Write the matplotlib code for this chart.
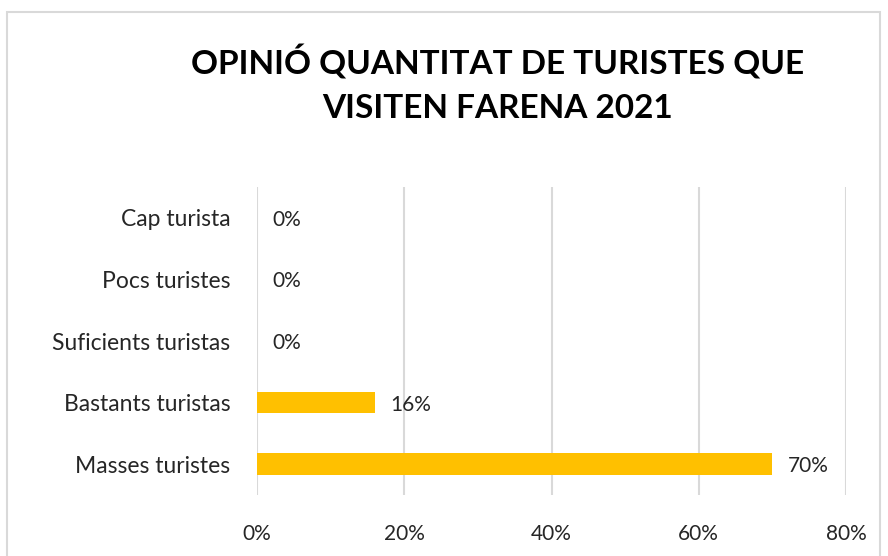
import matplotlib
matplotlib.use("Agg")
import matplotlib.pyplot as plt
from matplotlib.patches import Rectangle
from matplotlib.ticker import FuncFormatter

categories = ["Masses turistes", "Bastants turistas", "Suficients turistas", "Pocs turistes", "Cap turista"]
values = [70, 16, 0, 0, 0]
xticks = [0, 20, 40, 60, 80]
title_lines = ["OPINIÓ QUANTITAT DE TURISTES QUE", "VISITEN FARENA 2021"]

plt.rcParams['font.family'] = ['Lato', 'DejaVu Sans']

fig = plt.figure(figsize=(8.88, 5.56), dpi=100)
fig.patch.set_facecolor('white')
fig.add_artist(Rectangle((7/888, -0.05), (880-7)/888, 1.05 - 12/556, transform=fig.transFigure,
                         fill=False, edgecolor='#D9D9D9', linewidth=1.5))

ax = fig.add_axes([257/888, 61/556, (846-257)/888, (495-187)/556])
y = list(range(len(categories)))
ax.barh(y, values, height=0.35, color='#FFC000', zorder=3)
ax.set_xlim(0, 80)
ax.set_ylim(-0.5, len(categories) - 0.5)
ax.set_yticks(y)
ax.set_yticklabels(categories, fontsize=16.5, color='#262626')
ax.set_xticks(xticks)
ax.xaxis.set_major_formatter(FuncFormatter(lambda v, p: f"{v:.0f}%"))
ax.tick_params(axis='x', labelsize=15, labelcolor='#262626', length=0, pad=21)
ax.tick_params(axis='y', length=0, pad=19)
for s in ax.spines.values():
    s.set_visible(False)
ax.grid(axis='x', color='#D9D9D9', linewidth=1.5, zorder=0)
ax.set_axisbelow(True)

for yi, v in zip(y, values):
    ax.annotate(f"{v}%", (v, yi), xytext=(15, -2), textcoords='offset pixels',
                ha='left', va='center', fontsize=15, color='#262626')

for i, line in enumerate(title_lines):
    fig.text(498/888, 1 - (62 + 46*i)/556, line, ha='center', va='center', fontsize=24,
             fontweight='bold', color='black')

fig.savefig('out.png', dpi=100, facecolor='white')
